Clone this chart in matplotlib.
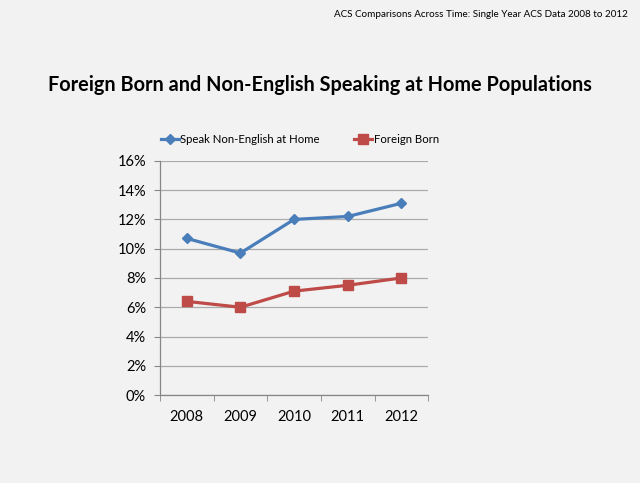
import matplotlib.pyplot as plt
from matplotlib.ticker import FixedLocator, PercentFormatter

years = ['2008', '2009', '2010', '2011', '2012']
non_english = [10.7, 9.7, 12.0, 12.2, 13.1]
foreign_born = [6.4, 6.0, 7.1, 7.5, 8.0]

bg = '#f2f2f2'
plt.rcParams['font.family'] = ['Lato', 'DejaVu Sans']

fig = plt.figure(figsize=(6.4, 4.83), dpi=100, facecolor=bg)
ax = fig.add_axes([0.25, 0.182, 0.419, 0.485], facecolor=bg)

x = list(range(len(years)))
ax.plot(x, non_english, color='#4a7ebb', lw=2.3, marker='D', ms=5.5,
        label='Speak Non-English at Home')
ax.plot(x, foreign_born, color='#be4b48', lw=2.3, marker='s', ms=6.5,
        label='Foreign Born')

ax.set_xlim(-0.5, len(years) - 0.5)
ax.set_ylim(0, 16)
ax.set_yticks(range(0, 17, 2))
ax.yaxis.set_major_formatter(PercentFormatter(decimals=0))
ax.grid(axis='y', color='#ababab', lw=0.9)
ax.set_axisbelow(True)

ax.set_xticks(x)
ax.set_xticklabels(years)
ax.xaxis.set_minor_locator(FixedLocator([i - 0.5 for i in range(len(years) + 1)]))
ax.tick_params(axis='x', which='major', length=0, pad=11, labelsize=10.5)
ax.tick_params(axis='x', which='minor', length=4, color='#868686', direction='out')
ax.tick_params(axis='y', length=4, color='#868686', pad=6, labelsize=10.5)

for s in ['top', 'right']:
    ax.spines[s].set_visible(False)
for s in ['left', 'bottom']:
    ax.spines[s].set_color('#868686')
    ax.spines[s].set_linewidth(0.9)

ax.legend(loc='lower left', bbox_to_anchor=(-0.015, 1.05), ncol=2, frameon=False,
          fontsize=8.2, handlelength=1.6, handletextpad=0.15, columnspacing=3.0,
          borderaxespad=0)

fig.text(0.981, 0.969, 'ACS Comparisons Across Time: Single Year ACS Data 2008 to 2012',
         ha='right', va='center', fontsize=7.1)
fig.text(0.5, 0.824, 'Foreign Born and Non-English Speaking at Home Populations',
         ha='center', va='center', fontsize=14.3, fontweight='bold')

fig.savefig('out.png', dpi=100, facecolor=bg)
